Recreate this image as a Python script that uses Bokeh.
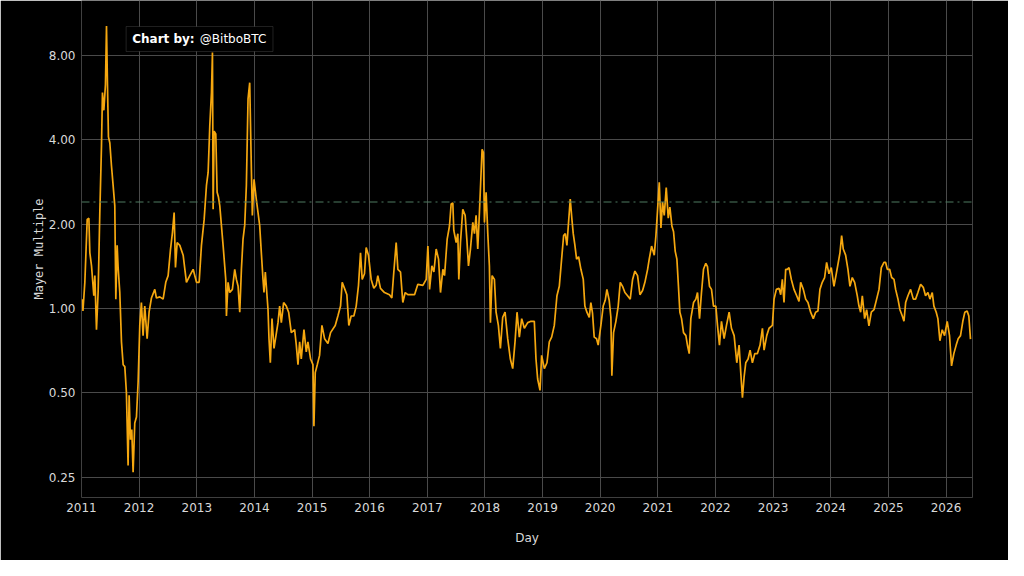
import pandas as pd
from bokeh.plotting import figure
from bokeh.models import (Range1d, FixedTicker, PrintfTickFormatter, DatetimeTickFormatter,
                          Span, Label, BoxAnnotation, ColumnDataSource)
from bokeh.embed import file_html
from bokeh.resources import INLINE

# ---- data (decimal year, Mayer Multiple) ----
years_2011_2013 = [2011.018, 2011.025, 2011.058, 2011.099, 2011.128, 2011.145, 2011.174, 2011.214, 2011.232, 2011.26,
                   2011.289, 2011.318, 2011.347, 2011.364, 2011.388, 2011.416, 2011.434, 2011.451, 2011.468, 2011.492,
                   2011.52, 2011.549, 2011.578, 2011.596, 2011.619, 2011.636, 2011.665, 2011.694, 2011.723, 2011.752,
                   2011.78, 2011.809, 2011.827, 2011.85, 2011.873, 2011.896, 2011.925, 2011.954, 2011.983, 2012.012,
                   2012.04, 2012.069, 2012.098, 2012.139, 2012.173, 2012.214, 2012.272, 2012.30, 2012.358, 2012.416,
                   2012.462, 2012.503, 2012.543, 2012.578, 2012.607, 2012.63, 2012.659, 2012.705, 2012.763, 2012.82,
                   2012.878, 2012.936, 2012.994, 2013.04, 2013.08, 2013.127, 2013.167, 2013.196, 2013.225, 2013.254,
                   2013.271, 2013.283, 2013.30, 2013.329, 2013.352, 2013.375, 2013.398, 2013.456, 2013.502, 2013.514,
                   2013.542, 2013.571, 2013.617, 2013.658, 2013.687, 2013.716, 2013.745, 2013.774, 2013.802, 2013.831,
                   2013.86, 2013.889, 2013.918]
values_2011_2013 = [1.08, 0.98, 1.24, 2.08, 2.1, 1.58, 1.42, 1.11, 1.31, 0.84,
                    1.15, 2.2, 3.8, 5.9, 5.1, 6.3, 10.2, 6.3, 4.1, 3.9,
                    3.24, 2.75, 2.33, 1.08, 1.68, 1.4, 1.14, 0.76, 0.63, 0.62,
                    0.50, 0.275, 0.49, 0.34, 0.37, 0.26, 0.39, 0.41, 0.545, 0.87,
                    1.05, 0.80, 1.02, 0.78, 0.97, 1.09, 1.17, 1.09, 1.1, 1.08,
                    1.24, 1.31, 1.62, 1.87, 2.2, 1.4, 1.72, 1.68, 1.55, 1.24,
                    1.31, 1.38, 1.24, 1.24, 1.68, 2.08, 2.75, 3.06, 4.5, 5.9,
                    8.2, 2.26, 4.3, 4.2, 2.6, 2.5, 2.33, 1.68, 1.27, 0.94,
                    1.24, 1.14, 1.17, 1.38, 1.27, 1.2, 0.97, 1.38, 1.77, 1.98,
                    2.75, 5.6, 6.4]

years_2014_2016 = [2013.947, 2013.964, 2013.993, 2014.033, 2014.091, 2014.12, 2014.149, 2014.166, 2014.189, 2014.236,
                   2014.253, 2014.276, 2014.305, 2014.34, 2014.409, 2014.438, 2014.467, 2014.507, 2014.553, 2014.594,
                   2014.64, 2014.698, 2014.727, 2014.756, 2014.785, 2014.813, 2014.86, 2014.90, 2014.929, 2014.975,
                   2015.016, 2015.033, 2015.056, 2015.091, 2015.131, 2015.172, 2015.218, 2015.276, 2015.322, 2015.403,
                   2015.449, 2015.495, 2015.524, 2015.564, 2015.605, 2015.639, 2015.68, 2015.726, 2015.767, 2015.807,
                   2015.842, 2015.871, 2015.911, 2015.94, 2015.98, 2016.027, 2016.073, 2016.113, 2016.142, 2016.188,
                   2016.258, 2016.344, 2016.385, 2016.419, 2016.46, 2016.489, 2016.535, 2016.575, 2016.616, 2016.662,
                   2016.72, 2016.778, 2016.835, 2016.922, 2016.98]
values_2014_2016 = [3.13, 2.15, 2.89, 2.45, 1.98, 1.58, 1.27, 1.14, 1.35, 0.99,
                    0.78, 0.64, 0.92, 0.72, 0.89, 1.02, 0.89, 1.05, 1.02, 0.97,
                    0.82, 0.84, 0.74, 0.63, 0.76, 0.66, 0.84, 0.70, 0.76, 0.66,
                    0.63, 0.38, 0.59, 0.63, 0.68, 0.87, 0.78, 0.75, 0.82, 0.87,
                    0.94, 1.02, 1.24, 1.18, 1.12, 0.87, 0.94, 0.94, 1.02, 1.21,
                    1.58, 1.27, 1.33, 1.65, 1.55, 1.27, 1.18, 1.21, 1.31, 1.18,
                    1.14, 1.12, 1.09, 1.35, 1.72, 1.38, 1.35, 1.05, 1.14, 1.12,
                    1.12, 1.12, 1.22, 1.21, 1.27]

years_2017_2019 = [2017.009, 2017.038, 2017.078, 2017.113, 2017.153, 2017.194, 2017.228, 2017.269, 2017.298, 2017.344,
                   2017.384, 2017.413, 2017.442, 2017.459, 2017.50, 2017.529, 2017.546, 2017.575, 2017.615, 2017.656,
                   2017.685, 2017.714, 2017.748, 2017.789, 2017.818, 2017.846, 2017.875, 2017.904, 2017.933, 2017.95,
                   2017.973, 2017.991, 2018.02, 2018.049, 2018.077, 2018.095, 2018.124, 2018.164, 2018.193, 2018.233,
                   2018.268, 2018.308, 2018.349, 2018.395, 2018.441, 2018.482, 2018.522, 2018.557, 2018.597, 2018.638,
                   2018.684, 2018.742, 2018.80, 2018.857, 2018.886, 2018.915, 2018.956, 2018.984, 2019.031, 2019.077,
                   2019.117, 2019.158, 2019.204, 2019.25, 2019.291, 2019.331, 2019.366, 2019.395, 2019.423, 2019.447,
                   2019.481, 2019.51, 2019.533, 2019.562, 2019.591, 2019.626, 2019.666, 2019.707, 2019.735, 2019.77,
                   2019.811, 2019.839, 2019.868, 2019.897, 2019.938, 2019.966, 2020.013, 2020.053, 2020.088, 2020.117]
values_2017_2019 = [1.67, 1.17, 1.42, 1.35, 1.63, 1.5, 1.14, 1.38, 1.31, 1.77,
                    1.97, 2.36, 2.38, 1.9, 1.72, 1.85, 1.27, 1.72, 2.26, 2.15,
                    1.77, 1.42, 1.63, 2.03, 1.85, 2.15, 1.63, 2.2, 3.06, 3.7,
                    3.6, 2.03, 2.6, 1.85, 1.42, 0.89, 1.31, 1.27, 0.97, 0.87,
                    0.72, 0.93, 0.97, 0.78, 0.66, 0.61, 0.76, 0.97, 0.79, 0.92,
                    0.85, 0.89, 0.9, 0.9, 0.66, 0.56, 0.51, 0.68, 0.61, 0.64,
                    0.76, 0.79, 0.87, 1.11, 1.2, 1.5, 1.82, 1.85, 1.68, 1.97,
                    2.46, 2.08, 1.85, 1.68, 1.5, 1.53, 1.38, 1.27, 1.02, 0.97,
                    0.93, 1.05, 0.96, 0.79, 0.78, 0.74, 0.87, 1.02, 1.07, 1.17]

years_2020_2022 = [2020.157, 2020.186, 2020.203, 2020.232, 2020.273, 2020.313, 2020.348, 2020.388, 2020.429, 2020.475,
                   2020.521, 2020.562, 2020.602, 2020.648, 2020.689, 2020.735, 2020.775, 2020.822, 2020.85, 2020.891,
                   2020.937, 2020.966, 2020.995, 2021.024, 2021.053, 2021.081, 2021.11, 2021.145, 2021.18, 2021.208,
                   2021.243, 2021.272, 2021.301, 2021.33, 2021.353, 2021.382, 2021.411, 2021.445, 2021.486, 2021.515,
                   2021.544, 2021.572, 2021.619, 2021.659, 2021.688, 2021.723, 2021.757, 2021.792, 2021.832, 2021.861,
                   2021.896, 2021.931, 2021.965, 2022.006, 2022.035, 2022.069, 2022.104, 2022.15, 2022.191, 2022.237,
                   2022.277, 2022.324, 2022.37, 2022.41, 2022.439, 2022.468, 2022.497, 2022.526, 2022.566, 2022.601,
                   2022.641, 2022.682, 2022.728, 2022.774, 2022.815, 2022.844, 2022.89, 2022.93, 2022.988, 2023.017,
                   2023.057, 2023.104, 2023.133, 2023.161, 2023.19, 2023.219]
values_2020_2022 = [1.07, 0.93, 0.575, 0.82, 0.9, 1.02, 1.24, 1.2, 1.14, 1.11,
                    1.08, 1.27, 1.36, 1.31, 1.12, 1.16, 1.24, 1.38, 1.5, 1.67,
                    1.55, 1.82, 2.26, 2.82, 1.94, 2.4, 2.15, 2.7, 2.1, 2.3,
                    1.97, 1.88, 1.6, 1.5, 1.24, 0.97, 0.92, 0.82, 0.8, 0.736,
                    0.69, 0.92, 1.05, 1.08, 1.14, 0.92, 1.14, 1.38, 1.45, 1.41,
                    1.2, 1.17, 1.02, 1.02, 0.87, 0.74, 0.9, 0.78, 0.87, 0.97,
                    0.85, 0.8, 0.64, 0.74, 0.59, 0.48, 0.57, 0.64, 0.66, 0.71,
                    0.64, 0.69, 0.69, 0.74, 0.85, 0.71, 0.8, 0.85, 0.87, 1.08,
                    1.17, 1.18, 1.12, 1.27, 1.05, 1.38]

years_2023_2026 = [2023.248, 2023.277, 2023.317, 2023.363, 2023.41, 2023.45, 2023.479, 2023.525, 2023.566, 2023.606,
                   2023.652, 2023.698, 2023.739, 2023.779, 2023.814, 2023.854, 2023.895, 2023.93, 2023.97, 2024.01,
                   2024.057, 2024.097, 2024.132, 2024.161, 2024.19, 2024.218, 2024.259, 2024.299, 2024.334, 2024.374,
                   2024.415, 2024.461, 2024.49, 2024.519, 2024.548, 2024.588, 2024.623, 2024.663, 2024.704, 2024.75,
                   2024.796, 2024.837, 2024.877, 2024.923, 2024.952, 2024.981, 2025.021, 2025.056, 2025.097, 2025.125,
                   2025.166, 2025.20, 2025.241, 2025.27, 2025.299, 2025.339, 2025.385, 2025.432, 2025.472, 2025.512,
                   2025.559, 2025.605, 2025.645, 2025.686, 2025.721, 2025.761, 2025.79, 2025.83, 2025.859, 2025.894,
                   2025.934, 2025.975, 2026.021, 2026.061, 2026.096, 2026.136, 2026.177, 2026.211, 2026.252, 2026.292,
                   2026.327, 2026.367, 2026.396, 2026.425]
values_2023_2026 = [1.38, 1.4, 1.27, 1.17, 1.11, 1.06, 1.24, 1.17, 1.08, 1.05,
                    0.97, 0.92, 0.97, 0.98, 1.17, 1.24, 1.29, 1.46, 1.33, 1.4,
                    1.2, 1.33, 1.46, 1.58, 1.82, 1.63, 1.55, 1.38, 1.2, 1.29,
                    1.24, 1.11, 1.02, 0.97, 1.11, 0.92, 0.99, 0.867, 0.97, 0.99,
                    1.08, 1.17, 1.4, 1.46, 1.46, 1.38, 1.38, 1.29, 1.27, 1.17,
                    1.08, 0.99, 0.94, 0.9, 1.05, 1.11, 1.17, 1.08, 1.08, 1.14,
                    1.22, 1.19, 1.11, 1.14, 1.08, 1.14, 1.02, 0.97, 0.92, 0.767,
                    0.84, 0.8, 0.9, 0.8, 0.624, 0.69, 0.74, 0.78, 0.8, 0.9,
                    0.97, 0.98, 0.94, 0.777]

tick_years = list(range(2011, 2027))
y_ticks = [0.25, 0.5, 1.0, 2.0, 4.0, 8.0]
threshold = 2.4
credit_bold = "Chart by:"
credit_text = "@BitboBTC"


def dec_to_dt(y):
    yr = int(y)
    start = pd.Timestamp(yr, 1, 1)
    end = pd.Timestamp(yr + 1, 1, 1)
    return start + (end - start) * (y - yr)


def to_ms(ts):
    return ts.value / 1e6


all_years = years_2011_2013 + years_2014_2016 + years_2017_2019 + years_2020_2022 + years_2023_2026
all_values = values_2011_2013 + values_2014_2016 + values_2017_2019 + values_2020_2022 + values_2023_2026
src = ColumnDataSource(data=dict(day=[dec_to_dt(y) for y in all_years], mm=all_values))

TEXT = "#d9d9d9"
GRID = "#4a4a4a"

p = figure(width=1008, height=560, x_axis_type="datetime", y_axis_type="log",
           x_range=Range1d(dec_to_dt(2011.0), dec_to_dt(2026.46)),
           y_range=Range1d(0.2114, 12.58),
           output_backend="svg", toolbar_location=None,
           background_fill_color="black", border_fill_color="black",
           min_border_left=81, min_border_right=36, min_border_top=0, min_border_bottom=63)
p.outline_line_color = None

p.line("day", "mm", source=src, line_color="#f5a70f", line_width=1.7)

p.add_layout(Span(location=threshold, dimension="width", line_color="#4e7a60",
                  line_width=1.2, line_dash="8 4 2 4"))

# axes
p.xaxis.ticker = FixedTicker(ticks=[to_ms(pd.Timestamp(y, 1, 1)) for y in tick_years])
p.xaxis.formatter = DatetimeTickFormatter(years="%Y", months="%Y", days="%Y", hours="%Y")
p.yaxis.ticker = FixedTicker(ticks=y_ticks)
p.yaxis.formatter = PrintfTickFormatter(format="%.2f")
for ax in (p.xaxis[0], p.yaxis[0]):
    ax.axis_line_color = None
    ax.major_tick_line_color = None
    ax.minor_tick_line_color = None
    ax.major_tick_out = 0
    ax.major_tick_in = 0
    ax.minor_tick_out = 0
    ax.minor_tick_in = 0
    ax.major_label_text_color = TEXT
    ax.major_label_text_font = "DejaVu Sans"
    ax.major_label_text_font_size = "12px"
    ax.axis_label_text_color = TEXT
    ax.axis_label_text_font_style = "normal"
    ax.axis_label_text_font_size = "12px"
p.xaxis.major_label_standoff = 5
p.yaxis.major_label_standoff = 6
p.xaxis.axis_label = "Day"
p.xaxis.axis_label_text_font = "DejaVu Sans"
p.xaxis.axis_label_standoff = 16
p.yaxis.axis_label = "Mayer Multiple"
p.yaxis.axis_label_text_font = "DejaVu Sans Mono"
p.yaxis.axis_label_standoff = 0

p.xgrid.ticker = p.xaxis.ticker
p.ygrid.ticker = p.yaxis.ticker
p.xgrid.grid_line_color = GRID
p.ygrid.grid_line_color = GRID

# credit box
p.add_layout(BoxAnnotation(left=to_ms(dec_to_dt(2011.775)), right=to_ms(dec_to_dt(2014.322)),
                           bottom=8.27, top=10.16, fill_color="black", fill_alpha=1.0,
                           line_color="#6a6a6a", line_width=1))
p.add_layout(Label(x=to_ms(dec_to_dt(2011.88)), y=9.17, text=credit_bold, text_color="white",
                   text_font="DejaVu Sans", text_font_style="bold", text_font_size="12px",
                   text_baseline="middle"))
p.add_layout(Label(x=to_ms(dec_to_dt(2013.052)), y=9.17, text=credit_text, text_color="white",
                   text_font="DejaVu Sans", text_font_size="12px", text_baseline="middle"))

open("out.html", "w").write(file_html(p, INLINE))
